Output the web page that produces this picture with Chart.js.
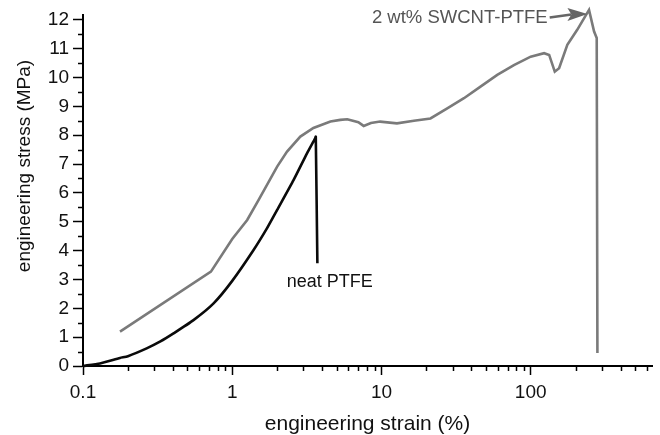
<!DOCTYPE html>
<html>
<head>
<meta charset="utf-8">
<script src="https://cdn.jsdelivr.net/npm/chart.js@4/dist/chart.umd.min.js"></script>
<style>
  body { margin: 0; background: #fff; }
  canvas { display: block; }
</style>
</head>
<body>
<canvas id="stressChart" width="660" height="435"></canvas>
<script>
// --- data ---
const neatStrain = [0.10, 0.13, 0.177, 0.20, 0.267, 0.33, 0.404, 0.55, 0.75, 1.0, 1.39, 1.7, 2.0, 2.58, 3.17, 3.6, 3.63, 3.72];
const neatStress = [0.0, 0.09, 0.28, 0.34, 0.61, 0.85, 1.13, 1.59, 2.17, 2.95, 4.02, 4.75, 5.41, 6.45, 7.37, 7.9, 7.95, 3.56];

const swcntStrain = [0.177, 0.72, 1.0, 1.26, 1.5, 2.0, 2.33, 2.86, 3.5, 4.55, 5.3, 5.9, 7.0, 7.6, 8.5, 9.8, 12.7, 16.5, 21.3, 27.6, 35.7, 46.1, 59.7, 77.2, 100, 123, 133, 145, 155, 176, 205, 246, 266, 277, 280];
const swcntStress = [1.19, 3.27, 4.4, 5.06, 5.75, 6.91, 7.43, 7.95, 8.25, 8.47, 8.53, 8.55, 8.45, 8.32, 8.42, 8.47, 8.41, 8.5, 8.58, 8.93, 9.28, 9.68, 10.09, 10.43, 10.72, 10.84, 10.78, 10.2, 10.32, 11.13, 11.65, 12.34, 11.59, 11.37, 0.45];

const seriesNames = ["neat PTFE", "2 wt% SWCNT-PTFE"];

const xTicks = [0.1, 1, 10, 100];
const xTickLabels = ["0.1", "1", "10", "100"];
const yTicks = [0, 1, 2, 3, 4, 5, 6, 7, 8, 9, 10, 11, 12];

const FONT = "'Liberation Sans', Arial, Helvetica, sans-serif";

function toPoints(xs, ys) {
  return xs.map((x, i) => ({ x: x, y: ys[i] }));
}

// minor ticks, y title and curve labels
const extrasPlugin = {
  id: 'extras',
  afterDraw(chart) {
    const ctx = chart.ctx;
    const xs = chart.scales.x;
    const ys = chart.scales.y;
    const area = chart.chartArea;

    ctx.save();
    ctx.strokeStyle = '#000';
    ctx.lineWidth = 1.5;

    // x minor ticks
    ctx.beginPath();
    xTicks.forEach(d => {
      for (let m = 2; m <= 9; m++) {
        const v = d * m;
        if (v > xs.max) break;
        const px = Math.round(xs.getPixelForValue(v)) + 0.5;
        ctx.moveTo(px, area.bottom);
        ctx.lineTo(px, area.bottom + 5);
      }
    });
    // y minor ticks
    for (let i = 0; i < yTicks.length - 1; i++) {
      const v = (yTicks[i] + yTicks[i + 1]) / 2;
      const py = Math.round(ys.getPixelForValue(v)) + 0.5;
      ctx.moveTo(area.left, py);
      ctx.lineTo(area.left - 5, py);
    }
    ctx.stroke();

    // y axis title (sits a bit above the axis centre in the original)
    ctx.save();
    ctx.translate(25, 166);
    ctx.rotate(-Math.PI / 2);
    ctx.fillStyle = '#111';
    ctx.font = '19px ' + FONT;
    ctx.textAlign = 'center';
    ctx.textBaseline = 'middle';
    ctx.fillText('engineering stress (MPa)', 0, 0);
    ctx.restore();

    // "neat PTFE" label
    ctx.fillStyle = '#111';
    ctx.font = '18px ' + FONT;
    ctx.textAlign = 'center';
    ctx.textBaseline = 'middle';
    ctx.fillText(seriesNames[0], xs.getPixelForValue(4.5), ys.getPixelForValue(2.9));

    // "2 wt% SWCNT-PTFE" label with arrow
    const tx = xs.getPixelForValue(130);
    const ty = ys.getPixelForValue(12.08);
    ctx.fillStyle = '#555';
    ctx.font = '18.5px ' + FONT;
    ctx.textAlign = 'right';
    ctx.fillText(seriesNames[1], tx, ty);

    const ax = xs.getPixelForValue(240);
    const ay = ys.getPixelForValue(12.2);
    ctx.strokeStyle = '#666';
    ctx.fillStyle = '#666';
    ctx.lineWidth = 2.5;
    ctx.beginPath();
    ctx.moveTo(tx + 2, ty);
    ctx.lineTo(ax - 16, ay + 0.5);
    ctx.stroke();
    ctx.beginPath();
    ctx.moveTo(ax, ay);
    ctx.lineTo(ax - 20, ay - 6);
    ctx.lineTo(ax - 16, ay + 0.5);
    ctx.lineTo(ax - 20, ay + 7);
    ctx.closePath();
    ctx.fill();
    ctx.restore();
  }
};

new Chart(document.getElementById('stressChart').getContext('2d'), {
  type: 'line',
  data: {
    datasets: [
      {
        label: seriesNames[1],
        data: toPoints(swcntStrain, swcntStress),
        borderColor: '#7a7a7a',
        borderWidth: 2.6,
        pointRadius: 0,
        tension: 0,
        fill: false,
        clip: false
      },
      {
        label: seriesNames[0],
        data: toPoints(neatStrain, neatStress),
        borderColor: '#0a0a0a',
        borderWidth: 2.6,
        pointRadius: 0,
        tension: 0.2,
        fill: false,
        clip: false
      }
    ]
  },
  options: {
    responsive: false,
    devicePixelRatio: 1,
    animation: false,
    layout: { padding: { top: 15, right: 8, left: 0, bottom: 0 } },
    plugins: {
      legend: { display: false },
      tooltip: { enabled: false }
    },
    scales: {
      x: {
        type: 'logarithmic',
        min: 0.1,
        max: 650,
        afterBuildTicks: s => { s.ticks = xTicks.map(v => ({ value: v })); },
        afterFit: s => { s.height = 69; },
        border: { display: true, color: '#000', width: 2 },
        grid: { display: true, drawOnChartArea: false, drawTicks: true, tickLength: 9, tickColor: '#000', tickWidth: 1.5 },
        ticks: {
          autoSkip: false,
          maxRotation: 0,
          padding: 6,
          color: '#111',
          font: { family: FONT, size: 19 },
          callback: (v, i) => xTickLabels[i]
        },
        title: {
          display: true,
          text: 'engineering strain (%)',
          color: '#111',
          font: { family: FONT, size: 21, lineHeight: 1 },
          padding: { top: 0, bottom: 0 }
        }
      },
      y: {
        type: 'linear',
        min: 0,
        max: 12.15,
        afterBuildTicks: s => { s.ticks = yTicks.map(v => ({ value: v })); },
        afterFit: s => { s.width = 83; },
        border: { display: true, color: '#000', width: 2 },
        grid: { display: true, drawOnChartArea: false, drawTicks: true, tickLength: 10, tickColor: '#000', tickWidth: 1.5 },
        ticks: {
          autoSkip: false,
          padding: 4,
          color: '#111',
          font: { family: FONT, size: 19 },
          callback: v => String(v)
        },
        title: { display: false }
      }
    }
  },
  plugins: [extrasPlugin]
});
</script>
</body>
</html>
